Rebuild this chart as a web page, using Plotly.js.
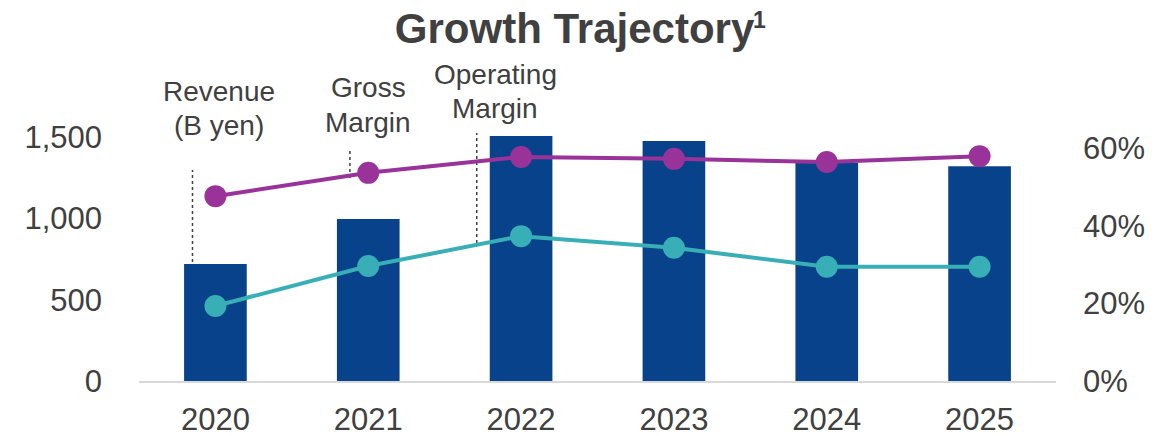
<!DOCTYPE html>
<html>
<head>
<meta charset="utf-8">
<script src="https://cdn.plot.ly/plotly-3.0.1.min.js"></script>
<style>html,body{margin:0;padding:0;background:#fff;}#chart{width:1175px;height:436px;}</style>
</head>
<body>
<div id="chart"></div>
<script>
const years = ["2020", "2021", "2022", "2023", "2024", "2025"];
const revenue = [719, 996, 1505, 1475, 1340, 1320];
const grossMargin = [0.476, 0.536, 0.577, 0.572, 0.564, 0.579];
const operatingMargin = [0.193, 0.296, 0.373, 0.343, 0.294, 0.294];
const leftTicks = [0, 500, 1000, 1500];
const leftTickText = ["0", "500", "1,000", "1,500"];
const rightTicks = [0, 0.2, 0.4, 0.6];
const rightTickText = ["0%", "20%", "40%", "60%"];
const seriesLabels = [["Revenue", "(B yen)"], ["Gross", "Margin"], ["Operating", "Margin"]];
const titleText = "Growth Trajectory";
const footnoteMark = "1";

const textColor = "#404040";
const font = "Arial, 'Liberation Sans', sans-serif";

const traces = [
  {type: "bar", x: years, y: revenue, marker: {color: "#07428A"}, width: 0.41, yaxis: "y", hoverinfo: "skip"},
  {type: "scatter", mode: "lines+markers", x: years, y: grossMargin, yaxis: "y2",
   line: {color: "#993399", width: 4}, marker: {color: "#993399", size: 22}, cliponaxis: false},
  {type: "scatter", mode: "lines+markers", x: years, y: operatingMargin, yaxis: "y2",
   line: {color: "#38AFB6", width: 4}, marker: {color: "#38AFB6", size: 22}, cliponaxis: false}
];

// label placement (category index, paper y of each line, pixel x shift)
const labelPos = [
  {x: 0, ys: [1.0285, 0.911], xshift: 4},
  {x: 1, ys: [1.046, 0.9217], xshift: 0},
  {x: 2, ys: [1.089, 0.9715], xshift: -26}
];
const leaders = [
  {x: -0.15, y0: 731, y1: 1297},
  {x: 0.88, y0: 1248, y1: 1432},
  {x: 1.71, y0: 848, y1: 1524}
];

const annotations = [];
seriesLabels.forEach((lines, i) => {
  lines.forEach((t, j) => {
    annotations.push({x: labelPos[i].x, y: labelPos[i].ys[j], xref: "x", yref: "paper", text: t,
      showarrow: false, xshift: labelPos[i].xshift, yanchor: "middle",
      font: {family: font, size: 28, color: textColor}});
  });
});
annotations.push({x: 0.6765, y: 1.2847, xref: "paper", yref: "paper", text: "<b>" + footnoteMark + "</b>",
  showarrow: false, xanchor: "center", yanchor: "middle", font: {family: font, size: 23, color: textColor}});

const layout = {
  width: 1175, height: 436,
  margin: {l: 139, r: 119, t: 100, b: 55},
  paper_bgcolor: "#fff", plot_bgcolor: "#fff",
  showlegend: false,
  font: {family: font, color: textColor},
  title: {text: "<b>" + titleText + "</b>",
          font: {family: font, size: 42, color: textColor},
          x: 0.489, xanchor: "center", yref: "container", y: 0.935, yanchor: "middle"},
  xaxis: {type: "category", range: [-0.5, 5.5], showgrid: false, zeroline: false,
          showline: true, linecolor: "#D9D9D9", linewidth: 2,
          tickfont: {size: 31, color: textColor}, ticks: "", ticklabelstandoff: 10},
  yaxis: {range: [0, 1727], tickvals: leftTicks, ticktext: leftTickText, showgrid: false, zeroline: false,
          showline: false, tickfont: {size: 31, color: textColor}, ticks: "", ticklabelstandoff: 36},
  yaxis2: {overlaying: "y", side: "right", range: [0, 0.7236], tickvals: rightTicks, ticktext: rightTickText,
           showgrid: false, zeroline: false, showline: false, tickfont: {size: 31, color: textColor},
           ticks: "", ticklabelstandoff: 26},
  annotations: annotations,
  shapes: leaders.map(s => ({type: "line", xref: "x", yref: "y", x0: s.x, x1: s.x, y0: s.y0, y1: s.y1,
    line: {color: textColor, width: 1.5, dash: "dot"}, layer: "below"})),
  bargap: 0.59
};

Plotly.newPlot("chart", traces, layout, {displayModeBar: false, staticPlot: true});
</script>
</body>
</html>
